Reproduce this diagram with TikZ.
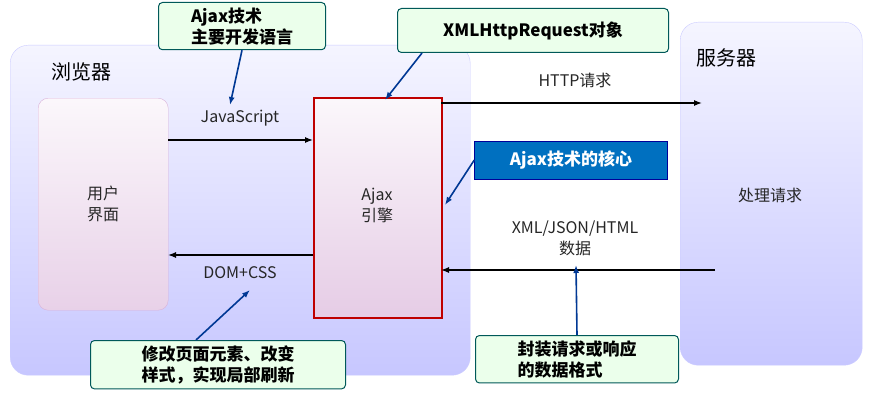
\documentclass[tikz,border=0pt]{standalone}
\usepackage{fontspec}
\setmainfont{Noto Sans CJK SC}
\usetikzlibrary{arrows.meta}
\begin{document}
\begin{tikzpicture}[x=1pt,y=-1pt,
  big/.style={draw=white!80!blue, rounded corners=18pt, top color=blue!4, bottom color=blue!22},
  inner/.style={draw=white!70!violet, rounded corners=10pt, top color=violet!3, bottom color=violet!18},
  note/.style={draw=teal!70!black, line width=1pt, fill=green!8, rounded corners=4pt, font=\bfseries\fontsize{17}{21}\selectfont, align=left, inner sep=5pt},
  flow/.style={-{Latex[length=8pt]}, line width=1.3pt},
  pointer/.style={-{Latex[length=8pt]}, line width=1.6pt, draw=blue!45!teal!80!black},
  lbl/.style={font=\fontsize{16}{21}\selectfont, align=center, text=black!85}]
\useasboundingbox (0,0) rectangle (877,412);
\fill[white] (0,0) rectangle (877,412);
\node[big, minimum width=460, minimum height=330, anchor=north west] (browser) at (10,45) {};
\node[big, minimum width=182, minimum height=343, anchor=north west] (server) at (680,22) {};
\node[font=\fontsize{20}{24}\selectfont, anchor=west] (bl) at (48,72) {浏览器};
\node[font=\fontsize{20}{24}\selectfont, anchor=west] (sl) at (693,58) {服务器};
\node[lbl] (proc) at (770,195) {处理请求};
\node[inner, minimum width=130, minimum height=212, anchor=north west, align=center, lbl] (ui) at (38,98) {用户\\界面};
\node[draw=red!75!black, line width=1.5pt, top color=violet!3, bottom color=violet!20, minimum width=128, minimum height=220, anchor=north west] (eng) at (313,97) {};
\node[lbl] (engl) at (377,205) {Ajax\\引擎};
\coordinate (js1) at (168,140); \coordinate (js2) at (313,140);
\draw[flow] (js1) -- (js2);
\node[lbl] (jsl) at (240,118) {JavaScript};
\coordinate (dc1) at (313,255); \coordinate (dc2) at (168,255);
\draw[flow] (dc1) -- (dc2);
\node[lbl] (dcl) at (240,273) {DOM+CSS};
\coordinate (h1) at (441,103); \coordinate (h2) at (702,103);
\draw[flow] (h1) -- (h2);
\node[lbl] (hl) at (575,80) {HTTP请求};
\coordinate (x1) at (715,270); \coordinate (x2) at (441,270);
\draw[flow] (x1) -- (x2);
\node[lbl] (xl) at (575,238) {XML/JSON/HTML\\数据};
\node[note, anchor=north west, minimum width=167] (n1) at (158,2) {Ajax技术\\主要开发语言};
\node[note, anchor=north west, minimum width=271, minimum height=44, align=center] (n2) at (397,8) {XMLHttpRequest对象};
\node[draw=blue!60!black, fill={rgb,255:red,0;green,112;blue,192}, text=white, font=\bfseries\fontsize{17}{21}\selectfont, minimum width=193, minimum height=38] (n3) at (571,160) {Ajax技术的核心};
\node[note, anchor=north west, minimum width=255] (n4) at (90,340) {修改页面元素、改变\\样式，实现局部刷新};
\node[note, anchor=north west, minimum width=203] (n5) at (475,335) {封装请求或响应\\的数据格式};
\draw[pointer] (n1.south) -- (230,105);
\draw[pointer] (n2.south west) ++(25,0) -- (385,100);
\draw[pointer] (n3.west) -- (445,205);
\draw[pointer] (n4.north) ++(-22,0) -- (250,290);
\draw[pointer] (n5.north) -- (576,265);
\end{tikzpicture}
\end{document}
